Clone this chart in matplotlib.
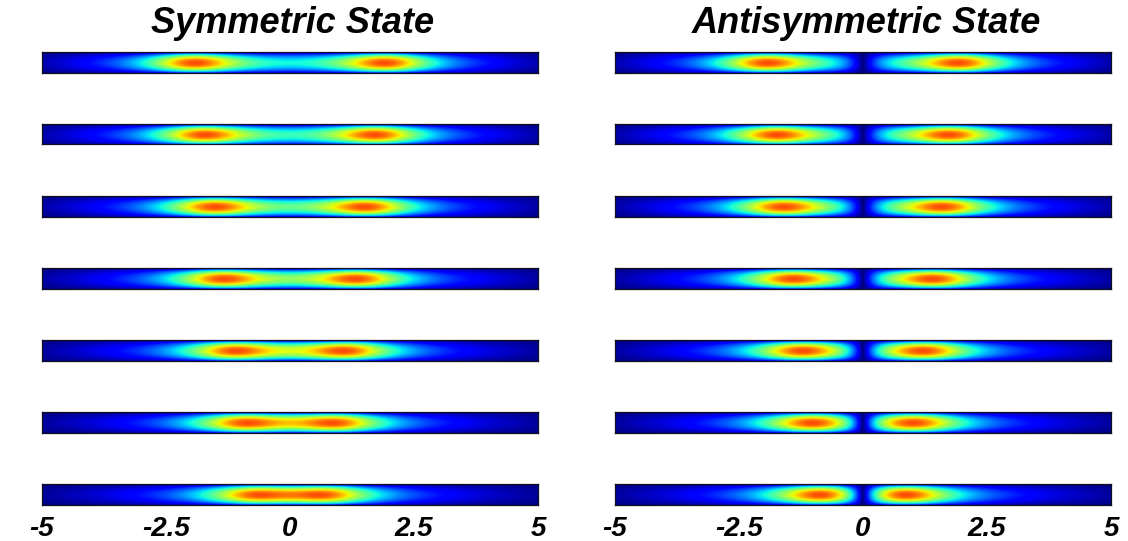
import numpy as np
import matplotlib
matplotlib.use("Agg")
from matplotlib import pyplot as plt

sym_peaks = [1.96, 1.76, 1.56, 1.38, 1.15, 0.95, 0.75]
anti_peaks = [1.97, 1.78, 1.64, 1.45, 1.26, 1.06, 0.90]
titles = ["Symmetric State", "Antisymmetric State"]
tick_vals = [-5, -2.5, 0, 2.5, 5]
tick_labels = ["-5", "-2.5", "0", "2.5", "5"]

W, H = 1128, 541
FONT = "Liberation Sans"


def lobe(d, w=0.85, q=0.8):
    return (1 + (d / w) ** 2) ** (-q)


def strip_field(a, antisym):
    x = np.linspace(-5, 5, 801)
    y = np.linspace(-1, 1, 61)
    ex = lobe(x - a) + lobe(x + a)
    if antisym:
        ex = ex * np.abs(np.tanh(x / 0.42))
    ex = ex * np.cos(np.pi * x / 10.4) ** 0.4
    ex = ex / ex.max()
    gy = np.cos(np.pi * y / 2.1) ** 0.75
    return x, y, gy[:, None] * ex[None, :]


fig = plt.figure(figsize=(W / 100, H / 100), dpi=100)

col_left = [42, 615]
col_width = 496
strip_h = 20.5
strip_top = [52 + 72 * i for i in range(7)]

for c, (peaks, anti) in enumerate([(sym_peaks, False), (anti_peaks, True)]):
    for r, a in enumerate(peaks):
        rect = [col_left[c] / W, 1 - (strip_top[r] + strip_h) / H,
                col_width / W, strip_h / H]
        ax = fig.add_axes(rect)
        x, y, z = strip_field(a, anti)
        ax.pcolormesh(x, y, z, cmap="jet", vmin=0, vmax=1 / 0.83,
                      shading="gouraud", rasterized=True)
        ax.set_xlim(-5, 5)
        ax.set_ylim(-1, 1)
        ax.set_yticks([])
        for s in ax.spines.values():
            s.set_linewidth(0.9)
            s.set_color("#101020")
        if r == len(peaks) - 1:
            ax.set_xticks(tick_vals)
            ax.set_xticklabels(tick_labels, fontsize=20, fontweight="bold",
                               fontstyle="italic", family=FONT)
            ax.tick_params(axis="x", length=0, pad=8)
        else:
            ax.set_xticks([])
    fig.text((col_left[c] + col_width / 2 + 3) / W, 1 - 33 / H, titles[c],
             ha="center", va="baseline", fontsize=26, fontweight="bold",
             fontstyle="italic", family=FONT)

fig.savefig("out.png", dpi=100)
